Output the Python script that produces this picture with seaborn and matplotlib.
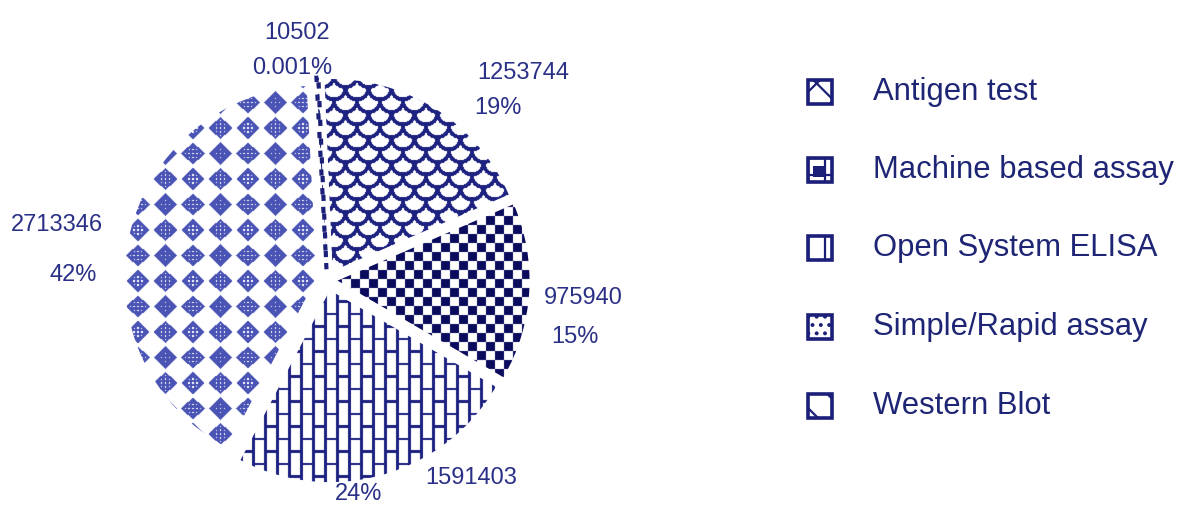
import numpy as np
import matplotlib
matplotlib.use("Agg")
import matplotlib.pyplot as plt
import seaborn as sns
from matplotlib.patches import Rectangle

# ---------------- data ----------------
categories = ["Western Blot", "Antigen test", "Machine based assay",
              "Open System ELISA", "Simple/Rapid assay"]
values = [10502, 1253744, 975940, 1591403, 2713346]
pct_labels = ["0.001%", "19%", "15%", "24%", "42%"]
legend_order = ["Antigen test", "Machine based assay", "Open System ELISA",
                "Simple/Rapid assay", "Western Blot"]

# ---------------- style ----------------
sns.set_theme(style="white")
plt.rcParams['font.family'] = ['Liberation Sans', 'DejaVu Sans']
plt.rcParams['hatch.linewidth'] = 1.6

NAVY = "#1b1f78"
TXT = "#2a3086"
W, H, DPI = 1179, 505, 100
R_PX, CX, CY = 192, 327, 280          # pie radius and centre in pixels

fig = plt.figure(figsize=(W / DPI, H / DPI), dpi=DPI)
fig.patch.set_facecolor("white")
ax = fig.add_axes([0, 0, 1, 1])

wedges, _ = ax.pie(values, startangle=93, counterclock=False,
                   explode=[0.055] * len(values), radius=1,
                   wedgeprops=dict(facecolor="none", edgecolor="none"))
xlim = (-CX / R_PX, (W - CX) / R_PX)
ylim = (-(H - CY) / R_PX, CY / R_PX)
ax.set_xlim(*xlim)
ax.set_ylim(*ylim)
ax.set_aspect("auto")
ax.axis("off")


def px2d(px, py):
    return (px - CX) / R_PX, (CY - py) / R_PX


# ---------------- textures (pixel space) ----------------
Yg, Xg = np.mgrid[0:H, 0:W].astype(float)


def tex_scales(X, Y, px=23.0, py=12.5, r=11.5, lw=2.0):
    ink = np.zeros_like(X, dtype=bool)
    j0 = np.floor(Y / py)
    for dj in range(-2, 2):
        j = j0 + dj
        cy = j * py
        off = (j % 2) * px / 2
        i = np.round((X - off) / px)
        cx = i * px + off
        d = np.hypot(X - cx, Y - cy)
        ink |= (np.abs(d - r) < lw) & (Y >= cy - 1.5)
    return ink


def tex_checker(X, Y, s=9):
    return ((X // s + Y // s) % 2) == 0


def tex_bricks(X, Y, cw=12.0, bh=25.0, lw=2.5):
    col = np.floor(X / cw)
    xin = X - col * cw
    yoff = (col % 2) * bh / 2
    yin = np.mod(Y - yoff, bh)
    return (xin < lw) | (yin < lw)


def tex_diamonds(X, Y, p1=27.5, p2=25.5):
    dx = np.mod(X + p1 / 2, p1) - p1 / 2
    dy = np.mod(Y + p2 / 2, p2) - p2 / 2
    ink = (np.abs(dx) / 11.8 + np.abs(dy) / 11.3) <= 1.0
    dots = (np.mod(np.round(dx), 4) == 0) & (np.mod(np.round(dy), 4) == 0) & \
           (np.abs(dx) + np.abs(dy) < 8)
    return ink & ~dots


def soften(a):
    n = (np.roll(a, 1, 0) + np.roll(a, -1, 0) + np.roll(a, 1, 1) + np.roll(a, -1, 1)) / 4
    return np.clip(0.65 * a + 0.35 * n, 0, 1)


textures = {
    "Western Blot": (tex_scales, NAVY),
    "Antigen test": (tex_scales, "#1d2280"),
    "Machine based assay": (tex_checker, "#0a0b5c"),
    "Open System ELISA": (tex_bricks, "#1c2180"),
    "Simple/Rapid assay": (tex_diamonds, "#4a54b4"),
}

for cat, wedge in zip(categories, wedges):
    fn, col = textures[cat]
    ink = fn(Xg, Yg).astype(float)
    rgba = np.zeros((H, W, 4))
    rgba[..., :3] = matplotlib.colors.to_rgb(col)
    rgba[..., 3] = soften(ink)
    im = ax.imshow(rgba, extent=(xlim[0], xlim[1], ylim[0], ylim[1]),
                   origin="upper", interpolation="nearest", zorder=2)
    im.set_clip_path(wedge)
    ax.set_xlim(*xlim)
    ax.set_ylim(*ylim)
    ax.set_aspect("auto")
    if cat == "Western Blot":
        wedge.set_edgecolor(NAVY)
        wedge.set_linewidth(3)
        wedge.set_linestyle((0, (1.5, 3)))
        wedge.set_zorder(3)

# ---------------- value labels ----------------
label_px = {  # (number centre, percent centre) in pixels
    "Western Blot": ((297, 33), (292, 68)),
    "Antigen test": ((523, 73), (498, 108)),
    "Machine based assay": ((583, 298), (575, 337)),
    "Open System ELISA": ((471, 478), (359, 494)),
    "Simple/Rapid assay": ((57, 225), (73, 275)),
}
for cat, v, pct in zip(categories, values, pct_labels):
    (nx, ny), (qx, qy) = label_px[cat]
    ax.text(*px2d(nx, ny), f"{v}", ha="center", va="center",
            fontsize=17, color=TXT, zorder=5)
    ax.text(*px2d(qx, qy), pct, ha="center", va="center",
            fontsize=17, color=TXT, zorder=5)

# ---------------- legend ----------------
leg_y = [92, 170, 248, 327, 406]
icon_hatch = {
    "Antigen test": "x",
    "Machine based assay": "+",
    "Open System ELISA": "|",
    "Simple/Rapid assay": "..",
    "Western Blot": "\\",
}
box = 24 / R_PX
for name, yy in zip(legend_order, leg_y):
    x0, y0 = px2d(808, yy + 12)
    ax.add_patch(Rectangle((x0, y0), box, box, facecolor="white",
                           edgecolor=NAVY, linewidth=2.6,
                           hatch=icon_hatch[name], zorder=5))
    if name == "Machine based assay":
        ax.add_patch(Rectangle((x0 + box * 0.2, y0 + box * 0.2), box * 0.45, box * 0.45,
                               facecolor=NAVY, edgecolor="none", zorder=6))
    ax.text(*px2d(873, yy), name, ha="left", va="center", fontsize=22.3,
            color="#1f2575", zorder=5)

fig.savefig("out.png", dpi=DPI, facecolor="white")
